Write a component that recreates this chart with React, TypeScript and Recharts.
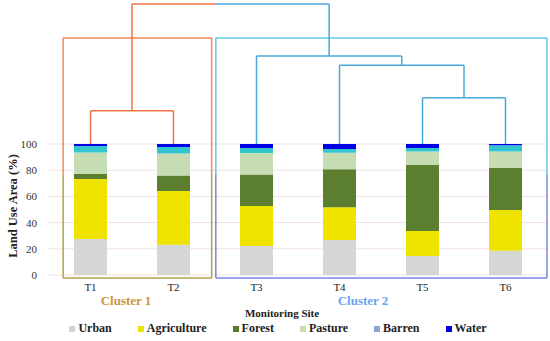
import React from "react";
import {
  Bar,
  BarChart,
  CartesianGrid,
  Legend,
  ReferenceLine,
  XAxis,
  YAxis
} from "recharts";

const SITES = ["T1", "T2", "T3", "T4", "T5", "T6"];
const URBAN = [27.5, 23.0, 22.1, 26.7, 14.5, 18.6];
const AGRICULTURE = [45.8, 41.1, 30.6, 25.0, 19.1, 31.0];
const FOREST = [4.0, 11.8, 24.0, 29.0, 50.3, 32.3];
const PASTURE = [16.2, 16.8, 16.4, 12.6, 10.4, 12.3];
const BARREN = [5.0, 5.1, 3.9, 2.9, 2.7, 4.8];
const WATER = [1.5, 2.2, 3.0, 3.8, 3.0, 1.0];
const Y_TICKS = [0, 20, 40, 60, 80, 100];

// dendrogram merges: [child a, child b, height]; nodes 0-5 are the sites, 6+ are merges in order
const MERGES: [number, number, number][] = [
  [0, 1, 125.4],
  [4, 5, 135.3],
  [3, 7, 160.1],
  [2, 8, 167.2],
  [6, 9, 206.9]
];
const CLUSTER_OF_SITE = [1, 1, 2, 2, 2, 2];

const SERIES = [
  { key: "Urban", values: URBAN, fill: "#d6d6d6", legend: "#d2d2d2" },
  { key: "Agriculture", values: AGRICULTURE, fill: "#efe400", legend: "#e6e600" },
  { key: "Forest", values: FOREST, fill: "#5b7f2f", legend: "#5a7a30" },
  { key: "Pasture", values: PASTURE, fill: "#c6dcb2", legend: "#c8dcb8" },
  { key: "Barren", values: BARREN, fill: "#34c6cf", legend: "#8ea4d4" },
  { key: "Water", values: WATER, fill: "#0000e6", legend: "#0000e0" }
];

const data = SITES.map((site, i) => {
  const row: Record<string, number | string> = { site, pos: i + 1 };
  SERIES.forEach((s) => {
    row[s.key] = s.values[i];
  });
  return row;
});

const ORANGE = "#ef7444";
const BLUE = "#4aa9d9";
const FONT = '"Liberation Serif", "Times New Roman", serif';

type Seg = { x1: number; y1: number; x2: number; y2: number; color: string };

function buildDendrogram(): Seg[] {
  const xs: number[] = SITES.map((_, i) => i + 1);
  const hs: number[] = SITES.map(() => 100);
  const cl: number[] = [...CLUSTER_OF_SITE];
  const segs: Seg[] = [];
  MERGES.forEach(([a, b, h]) => {
    const ca = cl[a] === 1 ? ORANGE : BLUE;
    const cb = cl[b] === 1 ? ORANGE : BLUE;
    segs.push({ x1: xs[a], y1: hs[a], x2: xs[a], y2: h, color: ca });
    segs.push({ x1: xs[b], y1: hs[b], x2: xs[b], y2: h, color: cb });
    if (ca === cb) {
      segs.push({ x1: xs[a], y1: h, x2: xs[b], y2: h, color: ca });
    } else {
      segs.push({ x1: xs[a], y1: h, x2: 2.5, y2: h, color: ca });
      segs.push({ x1: 2.5, y1: h, x2: xs[b], y2: h, color: cb });
    }
    xs.push((xs[a] + xs[b]) / 2);
    hs.push(h);
    cl.push(ca === cb ? cl[a] : 0);
  });
  return segs;
}

// cluster boxes, drawn in axis units
function buildBoxes(): Seg[] {
  const top = 180.9;
  const mid = 77;
  const bottom = -2.3;
  const b1 = [0.67, 2.46];
  const b2 = [2.51, 6.5];
  const s: Seg[] = [];
  const box = (l: number, r: number, up: string, low: string) => {
    s.push({ x1: l, y1: top, x2: r, y2: top, color: up });
    s.push({ x1: l, y1: top, x2: l, y2: mid, color: up });
    s.push({ x1: r, y1: top, x2: r, y2: mid, color: up });
    s.push({ x1: l, y1: mid, x2: l, y2: bottom, color: low });
    s.push({ x1: r, y1: mid, x2: r, y2: bottom, color: low });
    s.push({ x1: l, y1: bottom, x2: r, y2: bottom, color: low });
  };
  box(b1[0], b1[1], "#f08c58", "#b0a24a");
  box(b2[0], b2[1], "#5ec8ea", "#7a84e2");
  return s;
}

const LegendContent = () => (
  <div
    style={{
      display: "flex",
      justifyContent: "center",
      gap: 26,
      paddingLeft: 6,
      fontFamily: FONT,
      fontWeight: "bold",
      fontSize: 12,
      color: "#222"
    }}
  >
    {SERIES.map((s) => (
      <div key={s.key} style={{ display: "flex", alignItems: "center", gap: 3 }}>
        <span style={{ width: 6, height: 6, background: s.legend, display: "inline-block" }} />
        <span>{s.key}</span>
      </div>
    ))}
  </div>
);

export default function App() {
  const dendro = buildDendrogram();
  const boxes = buildBoxes();
  return (
    <div style={{ position: "absolute", left: 0, top: 0, width: 550, height: 341, background: "#fff" }}>
      <BarChart
        width={550}
        height={341}
        data={data}
        margin={{ top: 144, right: 3, left: 0, bottom: 52 }}
      >
        <CartesianGrid stroke="#f1dfe3" vertical={false} />
        <XAxis
          dataKey="site"
          height={14}
          tickLine={false}
          axisLine={false}
          tickMargin={2}
          tick={{ fontSize: 11, fill: "#222", fontFamily: FONT }}
        />
        <XAxis
          xAxisId="d"
          dataKey="pos"
          type="number"
          domain={[0.5, 6.5]}
          allowDataOverflow
          hide
        />
        <YAxis
          width={49}
          domain={[0, 100]}
          ticks={Y_TICKS}
          allowDataOverflow
          tickLine={false}
          axisLine={false}
          tickMargin={6}
          tick={{ fontSize: 11, fill: "#333", fontFamily: FONT }}
        />
        <Legend
          layout="horizontal"
          verticalAlign="middle"
          wrapperStyle={{ top: 321, left: 0, width: 550 }}
          content={<LegendContent />}
        />
        {SERIES.map((s) => (
          <Bar
            key={s.key}
            dataKey={s.key}
            stackId="a"
            fill={s.fill}
            barSize={33}
            isAnimationActive={false}
          />
        ))}
        {boxes.concat(dendro).map((g, i) => (
          <ReferenceLine
            key={i}
            xAxisId="d"
            ifOverflow="visible"
            stroke={g.color}
            strokeWidth={1.5}
            segment={[
              { x: g.x1, y: g.y1 },
              { x: g.x2, y: g.y2 }
            ]}
          />
        ))}
        <text
          x={13}
          y={206}
          transform="rotate(-90 13 206)"
          textAnchor="middle"
          dominantBaseline="central"
          fontFamily={FONT}
          fontWeight="bold"
          fontSize={12.5}
          fill="#222"
        >
          Land Use Area (%)
        </text>
        <text x={126} y={305} textAnchor="middle" fontFamily={FONT} fontWeight="bold" fontSize={13} fill="#c9973e">
          Cluster 1
        </text>
        <text x={363} y={305} textAnchor="middle" fontFamily={FONT} fontWeight="bold" fontSize={13} fill="#6aa6ee">
          Cluster 2
        </text>
        <text x={282} y={317} textAnchor="middle" fontFamily={FONT} fontWeight="bold" fontSize={11} fill="#222">
          Monitoring Site
        </text>
      </BarChart>
    </div>
  );
}
